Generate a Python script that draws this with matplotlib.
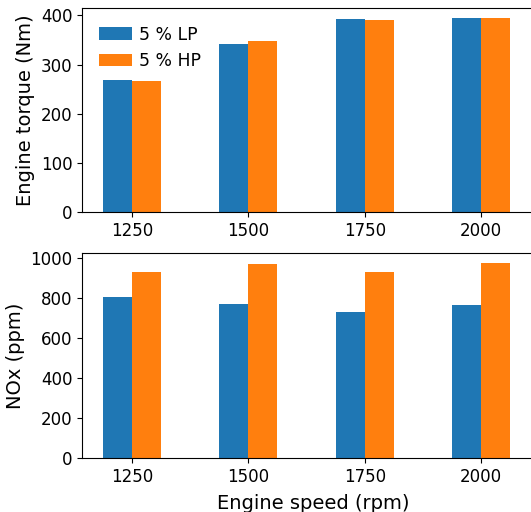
import matplotlib
matplotlib.use('Agg')
import matplotlib.pyplot as plt
import numpy as np

speeds = ['1250', '1500', '1750', '2000']
series = ['5 % LP', '5 % HP']
torque_lp = [268, 343, 392, 394]
torque_hp = [266, 348, 390, 394]
nox_lp = [808, 773, 733, 767]
nox_hp = [931, 972, 930, 975]

colors = ['#1f77b4', '#ff7f0e']
width = 0.25
x = np.arange(len(speeds))

fig = plt.figure(figsize=(5.31, 5.12), dpi=100)
# axes run past the right edge of the figure
ax1 = fig.add_axes([0.1544, 0.585, 0.87, 0.3988])
ax2 = fig.add_axes([0.1544, 0.1049, 0.87, 0.4004])

for ax, lp, hp in ((ax1, torque_lp, torque_hp), (ax2, nox_lp, nox_hp)):
    ax.bar(x - width / 2, lp, width, color=colors[0], label=series[0])
    ax.bar(x + width / 2, hp, width, color=colors[1], label=series[1])
    ax.set_xticks(x)
    ax.set_xticklabels(speeds)
    ax.set_xlim(-0.43, 3.54)
    ax.tick_params(labelsize=12)

ax1.set_ylim(0, 414.6)
ax1.set_yticks([0, 100, 200, 300, 400])
ax1.set_ylabel('Engine torque (Nm)', fontsize=14)
ax1.legend(loc='upper left', fontsize=12.4, frameon=False,
           handlelength=1.9, handleheight=0.74, handletextpad=0.4,
           borderaxespad=0.6)

ax2.set_ylim(0, 1025)
ax2.set_yticks([0, 200, 400, 600, 800, 1000])
ax2.set_ylabel('NOx (ppm)', fontsize=14)
ax2.set_xlabel('Engine speed (rpm)', fontsize=14, labelpad=6)

fig.savefig('out.png', dpi=100)
